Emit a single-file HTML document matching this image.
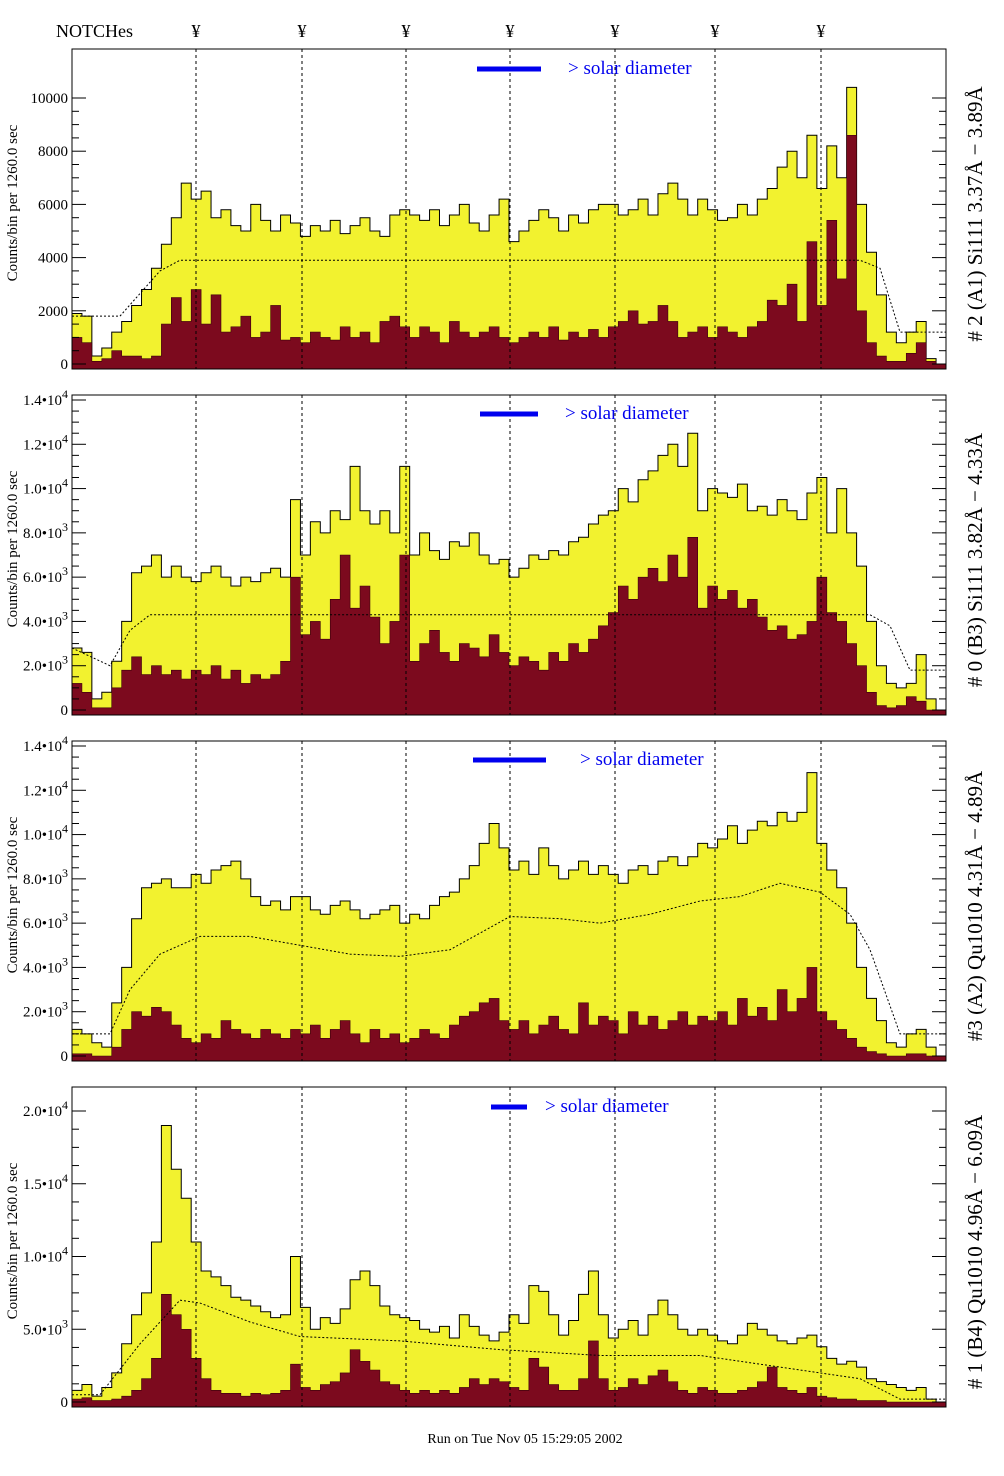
<!DOCTYPE html>
<html><head><meta charset="utf-8"><style>
html,body{margin:0;padding:0;background:#fff;width:1004px;height:1476px;overflow:hidden}
svg{display:block;font-family:"Liberation Serif",serif}
</style></head><body>
<svg id="chart" width="1004" height="1476" viewBox="0 0 1004 1476" xmlns="http://www.w3.org/2000/svg">
<text x="56" y="37" font-size="18">NOTCHes</text>
<text x="525" y="1443" font-size="14" text-anchor="middle">Run on Tue Nov 05 15:29:05 2002</text>
</svg>
<script>
const notchX = [196, 302, 406, 510, 615, 715, 821];
const p1Outer = [1.9,1.8,0.3,0.6,1.2,1.6,2.2,2.8,3.6,4.5,5.5,6.8,6.2,6.5,5.5,5.8,5.2,5.0,6.0,5.4,5.0,5.6,5.3,4.8,5.2,5.0,5.4,4.9,5.2,5.5,5.0,4.8,5.6,5.8,5.6,5.4,5.8,5.2,5.6,6.0,5.3,5.0,5.6,6.2,4.6,5.0,5.4,5.8,5.5,5.0,5.6,5.3,5.8,6.0,6.0,5.6,5.8,6.2,5.6,6.4,6.8,6.2,5.6,6.2,5.8,5.4,5.5,6.0,5.6,6.2,6.6,7.4,8.0,7.0,8.6,6.6,8.2,7.0,10.4,6.0,4.2,2.6,1.2,0.8,1.2,1.6,0.2,0];
const p1Inner = [1.0,0.8,0.1,0.2,0.5,0.3,0.3,0.2,0.3,1.5,2.5,1.6,2.8,1.5,2.6,1.2,1.4,1.8,1.0,1.2,2.2,0.9,1.0,0.8,1.2,1.0,0.9,1.4,1.0,1.2,0.8,1.6,1.8,1.4,1.0,1.4,1.2,0.8,1.6,1.2,1.0,1.2,1.4,1.0,0.8,1.0,1.2,1.0,1.4,0.9,1.2,1.0,1.3,1.0,1.4,1.6,2.0,1.5,1.6,2.2,1.6,1.0,1.2,1.4,1.0,1.4,1.2,1.0,1.4,1.6,2.4,2.2,3.0,1.6,4.6,2.2,5.4,3.2,8.6,2.0,0.8,0.3,0.1,0.1,0.4,0.8,0.1,0];
const p1ModelX = [72,120,160,180,860,880,900,946];
const p1ModelY = [1.8,1.8,3.5,3.9,3.9,3.6,1.2,1.2];
const p2Outer = [2.8,2.6,0.5,0.8,2.2,4.0,6.2,6.5,7.0,6.0,6.5,6.0,5.8,6.2,6.5,6.0,5.6,6.0,5.8,6.2,6.4,6.0,9.5,7.0,8.5,8.0,9.0,8.6,11.0,9.0,8.4,9.0,8.0,11.0,7.0,8.0,7.2,6.8,7.6,7.4,8.0,7.0,6.6,6.8,6.0,6.4,7.0,6.8,7.2,7.0,7.6,7.8,8.4,8.8,9.0,10.0,9.4,10.4,10.8,11.5,12.0,11.0,12.5,9.0,10.0,9.8,9.6,10.2,9.0,9.2,8.8,9.5,9.0,8.6,9.8,10.5,8.0,10.0,8.0,6.5,4.0,2.0,1.2,1.0,1.2,2.5,0.5,0];
const p2Inner = [1.2,0.8,0.1,0.1,1.0,1.8,2.4,1.6,2.0,1.6,1.8,1.4,1.8,1.6,2.0,1.4,1.8,1.2,1.6,1.4,1.6,2.2,6.0,3.4,4.0,3.2,5.0,7.0,4.6,5.6,4.2,3.0,4.0,7.0,2.2,3.0,3.6,2.6,2.2,3.0,2.8,2.4,3.4,2.6,2.0,2.4,2.2,1.8,2.6,2.2,3.0,2.6,3.2,3.8,4.4,5.6,5.0,6.0,6.4,5.8,7.0,6.0,7.8,4.6,5.6,5.0,5.4,4.6,5.0,4.2,3.6,3.8,3.2,3.4,4.0,6.0,4.4,4.0,3.0,2.0,0.8,0.2,0.1,0.2,0.6,0.4,0,0];
const p2ModelX = [72,110,130,150,870,890,910,946];
const p2ModelY = [2.8,2.0,3.6,4.3,4.3,3.8,1.8,1.8];
const p3Outer = [1.2,1.0,0.6,0.4,2.4,4.0,6.2,7.6,7.8,8.0,7.6,7.6,8.2,7.8,8.4,8.6,8.8,8.0,7.2,6.8,7.0,6.6,7.2,7.2,6.6,6.4,6.8,7.0,6.6,6.2,6.4,6.6,6.8,6.0,6.4,6.2,6.8,7.2,7.4,8.0,8.6,9.6,10.5,9.4,8.4,8.8,8.2,9.4,8.6,8.0,8.4,8.8,8.2,8.6,8.2,7.8,8.4,8.6,8.2,8.8,9.0,8.6,9.0,9.6,9.4,9.8,10.4,9.6,10.2,10.6,10.4,11.0,10.6,11.0,12.8,9.6,8.4,7.6,6.0,4.0,2.6,1.6,0.6,0.4,1.0,1.2,0.4,0];
const p3Inner = [0.1,0.1,0,0,0.4,1.2,2.0,1.8,2.2,2.0,1.4,0.8,0.6,1.0,0.8,1.6,1.2,1.0,0.8,1.2,1.0,0.8,1.2,1.0,1.4,0.8,1.2,1.6,1.0,0.6,1.2,0.8,1.0,0.6,0.8,1.2,1.0,0.8,1.4,1.8,2.0,2.4,2.6,1.6,1.2,1.6,1.0,1.4,1.8,1.2,1.0,2.4,1.4,1.8,1.6,1.0,2.0,1.4,1.8,1.2,1.6,2.0,1.4,1.8,1.6,2.0,1.4,2.6,1.8,2.2,1.6,3.0,2.0,2.6,4.0,2.0,1.6,1.2,0.8,0.4,0.2,0.1,0,0,0.1,0.1,0,0];
const p3ModelX = [72,110,130,160,200,250,300,350,400,450,510,560,600,650,700,740,780,820,850,870,900,946];
const p3ModelY = [1.0,1.0,3.0,4.6,5.4,5.4,5.0,4.6,4.5,4.8,6.3,6.2,6.0,6.4,7.0,7.2,7.8,7.4,6.4,4.8,1.0,1.0];
const p4Outer = [0.8,1.2,0.4,1.0,2.0,4.0,6.0,7.5,11.0,19.0,16.0,14.0,11.0,9.0,8.6,8.0,7.2,7.0,6.6,6.2,5.8,6.0,10.0,6.5,5.0,5.8,5.4,6.4,8.4,9.0,8.0,6.6,6.0,5.8,5.6,5.0,4.8,5.2,4.4,6.0,5.2,4.6,4.2,4.8,6.0,5.4,8.0,7.6,6.0,4.6,5.6,7.4,9.0,6.0,4.4,5.0,5.6,4.6,6.0,7.0,6.0,5.0,4.6,5.0,4.6,4.2,4.0,4.6,5.4,5.0,4.6,4.2,4.0,4.4,4.6,3.8,3.0,2.6,2.8,2.4,1.6,1.4,1.2,1.0,0.8,1.0,0.2,0];
const p4Inner = [0.2,0.3,0.1,0.1,0.2,0.4,0.8,1.6,3.0,7.4,6.0,5.0,3.0,1.6,0.8,0.6,0.6,0.4,0.6,0.5,0.6,0.8,2.6,1.0,0.8,1.2,1.4,2.0,3.6,2.8,2.2,1.4,1.2,0.8,0.6,0.8,0.6,0.8,0.6,1.0,1.6,1.2,1.6,1.4,1.0,0.8,3.0,2.4,1.2,0.8,0.8,1.6,4.2,1.6,0.8,1.0,1.6,1.2,1.8,2.2,1.4,0.8,0.6,1.0,0.8,0.6,0.6,0.8,1.0,1.4,2.4,1.0,0.8,0.6,1.0,0.4,0.3,0.2,0.2,0.1,0.1,0.1,0,0,0,0,0,0];
const p4ModelX = [72,100,140,180,200,250,300,400,500,600,700,800,860,900,946];
const p4ModelY = [0.5,0.5,4.0,7.0,6.8,5.5,4.5,4.2,3.6,3.2,3.2,2.2,1.6,0.2,0.2];
const p1Ticks = [0,2000,4000,6000,8000,10000];
const p1TickLabels = ["0","2000","4000","6000","8000","10000"];
const p23Ticks = [0,2000,4000,6000,8000,10000,12000,14000];
const p23Mant = ["0","2.0","4.0","6.0","8.0","1.0","1.2","1.4"];
const p23Exp = ["","3","3","3","3","4","4","4"];
const p4Ticks = [0,5000,10000,15000,20000];
const p4Mant = ["0","5.0","1.0","1.5","2.0"];
const p4Exp = ["","3","4","4","4"];

const NS = "http://www.w3.org/2000/svg";
const svg = document.getElementById('chart');
function mk(tag, attrs, parent){const e=document.createElementNS(NS,tag);for(const k in attrs)e.setAttribute(k,attrs[k]);(parent||svg).appendChild(e);return e;}
const X0=72, X1=946;

notchX.forEach((x,i)=>{
  const t=mk('text',{x:x,y:37,'font-size':18,'text-anchor':'middle'});
  t.textContent='¥';
  
  
});

const panels=[
 {top:49,bot:369,zero:364,ymaxVal:10000,ymaxPix:98,outer:p1Outer,inner:p1Inner,mx:p1ModelX,my:p1ModelY,ticks:p1Ticks,mant:p1TickLabels,exp:null,legend:[477,541,69,568],label:"# 2 (A1) Si111  3.37Å − 3.89Å"},
 {top:395,bot:715,zero:710,ymaxVal:14000,ymaxPix:400,outer:p2Outer,inner:p2Inner,mx:p2ModelX,my:p2ModelY,ticks:p23Ticks,mant:p23Mant,exp:p23Exp,legend:[480,538,414,565],label:"# 0 (B3) Si111  3.82Å − 4.33Å"},
 {top:741,bot:1061,zero:1056,ymaxVal:14000,ymaxPix:746,outer:p3Outer,inner:p3Inner,mx:p3ModelX,my:p3ModelY,ticks:p23Ticks,mant:p23Mant,exp:p23Exp,legend:[473,546,760,580],label:"#3 (A2) Qu1010  4.31Å − 4.89Å"},
 {top:1087,bot:1407,zero:1402,ymaxVal:20000,ymaxPix:1111,outer:p4Outer,inner:p4Inner,mx:p4ModelX,my:p4ModelY,ticks:p4Ticks,mant:p4Mant,exp:p4Exp,legend:[491,527,1107,545],label:"# 1 (B4) Qu1010 4.96Å − 6.09Å"}
];

panels.forEach((p,pi)=>{
  const g=mk('g',{});
  
  
  const y=v=>Math.max(p.top, p.zero-(v)*(p.zero-p.ymaxPix)/p.ymaxVal);
  const n=p.outer.length, bw=(X1-X0)/n;
  const xb=i=>X0+i*bw;
  function stepPath(arr){
    let d='M'+X0+','+p.bot;
    arr.forEach((v,i)=>{const yy=y(v*1000);d+=' L'+xb(i).toFixed(2)+','+yy.toFixed(2)+' L'+xb(i+1).toFixed(2)+','+yy.toFixed(2);});
    d+=' L'+X1+','+p.bot+' Z';return d;
  }
  const o=mk('path',{d:stepPath(p.outer),fill:'#f2f22f',stroke:'#000','stroke-width':1},g);
  
  
  const inn=mk('path',{d:stepPath(p.inner),fill:'#7c0a1e',stroke:'#3a0008','stroke-width':0.6},g);
  
  
  let md=''; p.mx.forEach((x,i)=>{md+=(i?' L':'M')+x+','+y(p.my[i]*1000).toFixed(2);});
  const ml=mk('path',{d:md,fill:'none',stroke:'#000','stroke-width':1,'stroke-dasharray':'2,2'},g);
  
  
  notchX.forEach(x=>{
    const l=mk('line',{x1:x,x2:x,y1:p.top,y2:p.bot,stroke:'#000','stroke-width':1,'stroke-dasharray':'3,3'},g);
    
    
  });
  const fr=mk('rect',{x:X0,y:p.top,width:X1-X0,height:p.bot-p.top,fill:'none',stroke:'#000','stroke-width':1},g);
  
  
  p.ticks.forEach((t,i)=>{
    const yy=y(t);
    mk('line',{x1:X0,x2:X0+14,y1:yy,y2:yy,stroke:'#000'},g);
    mk('line',{x1:X1,x2:X1-14,y1:yy,y2:yy,stroke:'#000'},g);
    const tx=mk('text',{x:68,y:yy+5,'font-size':15,'text-anchor':'end'},g);
    
    
    if(p.exp && p.exp[i]){
      const a=document.createElementNS(NS,'tspan');a.textContent=p.mant[i]+'•10';tx.appendChild(a);
      const b=document.createElementNS(NS,'tspan');b.setAttribute('dy','-7');b.setAttribute('font-size','12');b.textContent=p.exp[i];tx.appendChild(b);
    } else tx.textContent=p.mant[i];
    if(i<p.ticks.length-1){
      const step=(p.ticks[i+1]-t)/4;
      for(let k=1;k<4;k++){const ym=y(t+k*step);mk('line',{x1:X0,x2:X0+7,y1:ym,y2:ym,stroke:'#000'},g);mk('line',{x1:X1,x2:X1-7,y1:ym,y2:ym,stroke:'#000'},g);}
    }
  });
  const cy=(p.top+p.bot)/2;
  const yt=mk('text',{x:0,y:0,'font-size':15,'text-anchor':'middle',transform:'translate(17,'+(cy-6)+') rotate(-90)'},g);
  yt.textContent='Counts/bin per    1260.0 sec';
  
  
  const rl=mk('text',{x:0,y:0,'font-size':21,'text-anchor':'middle',transform:'translate(982,'+(cy+5)+') rotate(-90)'},g);
  rl.textContent=p.label;
  
  
  const L=p.legend;
  const lb=mk('line',{x1:L[0],x2:L[1],y1:L[2],y2:L[2],stroke:'#0000ee','stroke-width':5},g);
  
  
  const lt=mk('text',{x:L[3],y:L[2]+5,'font-size':19,fill:'#0000ee'},g);
  lt.textContent='> solar diameter';
  
  
});
</script>
</body></html>
